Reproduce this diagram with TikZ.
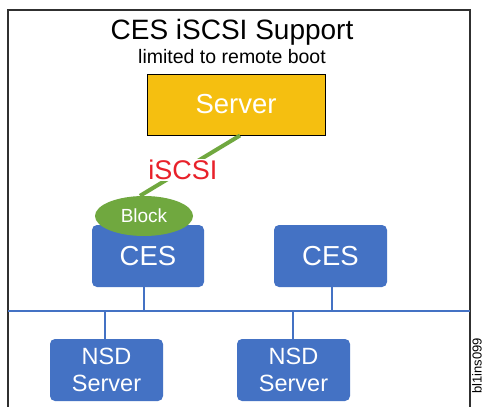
\documentclass[tikz,border=0pt]{standalone}
\usepackage{fontspec}
\setmainfont{Liberation Sans}
\usetikzlibrary{shapes.geometric}
\definecolor{srvgold}{HTML}{F5BF10}
\definecolor{cesblue}{HTML}{4472C4}
\definecolor{blkgreen}{HTML}{70A83F}
\definecolor{iscsired}{HTML}{E8212A}
\definecolor{framegray}{HTML}{303030}
\tikzset{
  fs/.style={font=\fontsize{#1}{#1}\selectfont},
  bluebox/.style={rectangle, rounded corners=5pt, fill=cesblue, text=white, minimum width=113pt, minimum height=62pt, inner sep=0pt, align=center},
  busline/.style={draw=cesblue, line width=2.6pt},
  greenline/.style={draw=blkgreen, line width=4pt},
}
\begin{document}
\begin{tikzpicture}[x=1pt,y=-1pt]
\useasboundingbox (0,0) rectangle (483,407);
\fill[white] (0,0) rectangle (483,407);
% frame
\draw[framegray, line width=1.5pt] (8,408) -- (8,10) -- (470,10) -- (470,408);
% titles
\node[fs=28] (title) at (232,32) {CES iSCSI Support};
\node[fs=19.5] (sub) at (232,57) {limited to remote boot};
% server
\node[draw=black, line width=1pt, fill=srvgold, text=white, fs=27.5, minimum width=178pt, minimum height=61pt, inner sep=0pt] (server) at (236,104.5) {Server};
% CES
\node[bluebox, fs=27.5, minimum width=112pt] (ces1) at (148,256) {CES};
\node[bluebox, fs=27.5] (ces2) at (330.5,256) {CES};
% block
\node[ellipse, fill=blkgreen, text=white, fs=19, minimum width=98pt, minimum height=40pt, inner sep=0pt] (block) at (144,216) {Block};
% iSCSI connection
\draw[greenline] ([xshift=4pt]server.south) -- node[pos=0.57, fill=white, text=iscsired, fs=27, inner sep=1pt] (iscsi) {iSCSI} ([xshift=-4pt]block.north);
% NSD
\node[bluebox, font=\fontsize{23.5}{27}\selectfont] (nsd1) at (106.5,370) {NSD\\Server};
\node[bluebox, font=\fontsize{23.5}{27}\selectfont] (nsd2) at (293.5,370) {NSD\\Server};
% bus
\coordinate (busL) at (8,311);
\coordinate (busR) at (470,311);
\coordinate (b1) at (144,311);
\coordinate (b2) at (332,311);
\coordinate (b3) at (105,311);
\coordinate (b4) at (293,311);
\draw[busline] (busL) -- (busR);
\draw[busline] (ces1.south -| b1) -- (b1);
\draw[busline] (ces2.south -| b2) -- (b2);
\draw[busline] (b3) -- (nsd1.north -| b3);
\draw[busline] (b4) -- (nsd2.north -| b4);
% side label
\node[rotate=90, anchor=north east, fs=13, inner sep=0pt] (tag) at (472,338) {bl1ins099};
\end{tikzpicture}
\end{document}
